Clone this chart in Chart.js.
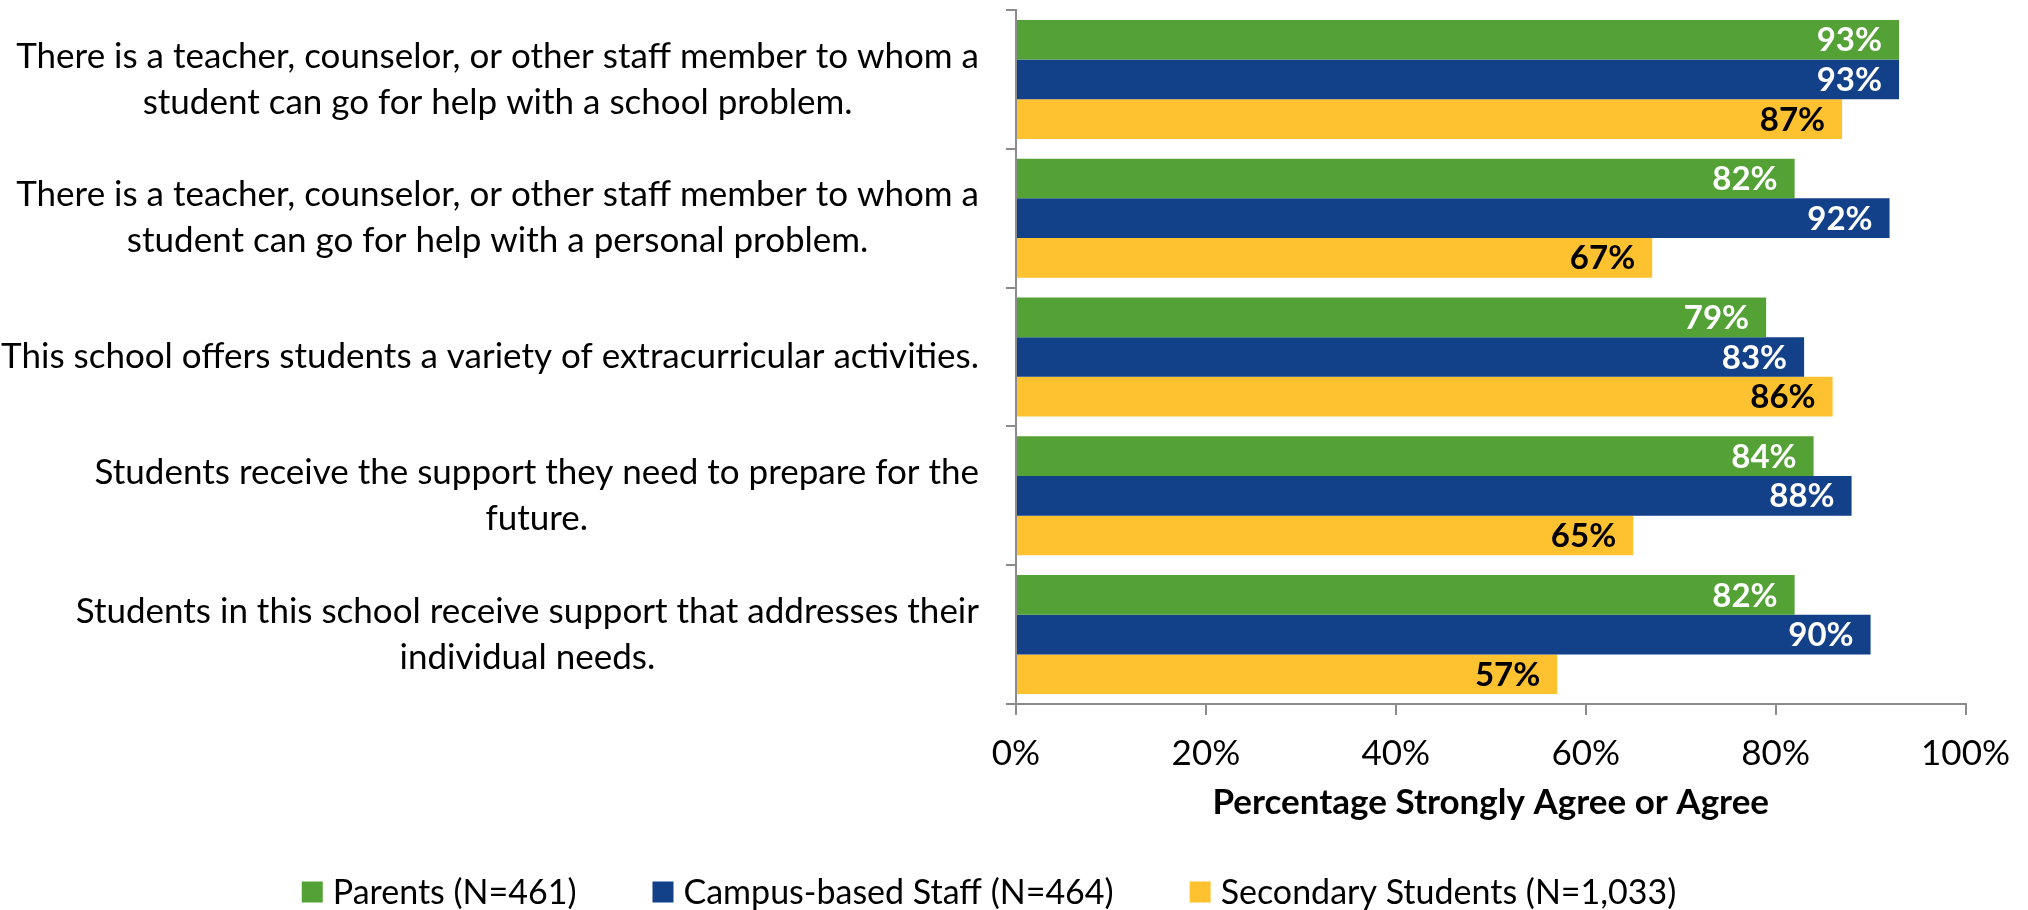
<!DOCTYPE html>
<html>
<head>
<meta charset="utf-8">
<script src="https://cdn.jsdelivr.net/npm/chart.js@4/dist/chart.umd.min.js"></script>
<style>
  html, body { margin: 0; padding: 0; background: #ffffff; }
  #wrap { width: 2028px; height: 910px; }
</style>
</head>
<body>
<div id="wrap"><canvas id="chart" width="2028" height="910"></canvas></div>
<script>
// Survey statements (each entry is the wrapped lines of one statement)
const statements = [
  ['There is a teacher, counselor, or other staff member to whom a', 'student can go for help with a school problem.'],
  ['There is a teacher, counselor, or other staff member to whom a', 'student can go for help with a personal problem.'],
  ['This school offers students a variety of extracurricular activities.'],
  ['Students receive the support they need to prepare for the', 'future.'],
  ['Students in this school receive support that addresses their', 'individual needs.']
];

// Percentage strongly agree or agree, per respondent group
const parents = [93, 82, 79, 84, 82];
const campusStaff = [93, 92, 83, 88, 90];
const secondaryStudents = [87, 67, 86, 65, 57];

const seriesNames = ['Parents (N=461)', 'Campus-based Staff (N=464)', 'Secondary Students (N=1,033)'];
const xTicks = [0, 20, 40, 60, 80, 100];
const xTitle = 'Percentage Strongly Agree or Agree';

const FONT = 'Lato, "Open Sans", sans-serif';
const TEXT_SIZE = 35;
const GREEN = '#54A136';
const BLUE = '#134189';
const YELLOW = '#FEC130';
const AXIS = '#8c8c8c';

// Wrapped category labels: lines centred on each other, block right-aligned to the axis
const statementLabels = {
  id: 'statementLabels',
  afterDraw(chart) {
    const { ctx } = chart;
    const yScale = chart.scales.y;
    const rightEdge = yScale.right - 37;
    const lineHeight = 46;
    ctx.save();
    ctx.font = TEXT_SIZE + 'px ' + FONT;
    ctx.fillStyle = '#000000';
    ctx.textAlign = 'center';
    ctx.textBaseline = 'middle';
    chart.data.labels.forEach((lines, i) => {
      const cy = yScale.getPixelForValue(i);
      const blockW = Math.max(...lines.map(l => ctx.measureText(l).width));
      const cx = rightEdge - blockW / 2;
      const top = cy - (lines.length - 1) * lineHeight / 2;
      lines.forEach((l, k) => ctx.fillText(l, cx, top + k * lineHeight));
    });
    ctx.restore();
  }
};

// Value labels at the inner end of each bar
const barValues = {
  id: 'barValues',
  afterDatasetsDraw(chart) {
    const { ctx } = chart;
    ctx.save();
    ctx.font = 'bold 33px ' + FONT;
    ctx.textAlign = 'right';
    ctx.textBaseline = 'middle';
    chart.data.datasets.forEach((ds, di) => {
      const meta = chart.getDatasetMeta(di);
      ctx.fillStyle = di === 2 ? '#000000' : '#ffffff';
      meta.data.forEach((bar, i) => {
        ctx.fillText(ds.data[i] + '%', bar.x - 17, bar.y + 1);
      });
    });
    ctx.restore();
  }
};

// Legend row below the axis title
const bottomLegend = {
  id: 'bottomLegend',
  afterDraw(chart) {
    const { ctx } = chart;
    const box = 21, gapText = 10, gapItem = 76;
    ctx.save();
    ctx.font = '34px ' + FONT;
    ctx.textBaseline = 'middle';
    ctx.textAlign = 'left';
    const items = chart.data.datasets.map(ds => ({ ds, w: box + gapText + ctx.measureText(ds.label).width }));
    const total = items.reduce((s, it) => s + it.w, 0) + gapItem * (items.length - 1);
    let x = chart.width / 2 - 25 - total / 2;
    const cy = 892;
    items.forEach(it => {
      ctx.fillStyle = it.ds.backgroundColor;
      ctx.fillRect(x, cy - box / 2, box, box);
      ctx.fillStyle = '#000000';
      ctx.fillText(it.ds.label, x + box + gapText, cy + 1);
      x += it.w + gapItem;
    });
    ctx.restore();
  }
};

new Chart(document.getElementById('chart'), {
  type: 'bar',
  data: {
    labels: statements,
    datasets: [
      { label: seriesNames[0], data: parents, backgroundColor: GREEN },
      { label: seriesNames[1], data: campusStaff, backgroundColor: BLUE },
      { label: seriesNames[2], data: secondaryStudents, backgroundColor: YELLOW }
    ]
  },
  options: {
    indexAxis: 'y',
    responsive: false,
    animation: false,
    devicePixelRatio: 1,
    datasets: { bar: { categoryPercentage: 0.857, barPercentage: 1.0, borderWidth: 0 } },
    layout: { padding: { top: 10, right: 57, bottom: 76, left: 0 } },
    plugins: { legend: { display: false }, tooltip: { enabled: false } },
    scales: {
      x: {
        min: 0, max: 100,
        afterBuildTicks(scale) { scale.ticks = xTicks.map(v => ({ value: v })); },
        afterFit(scale) { scale.height = 130; },
        ticks: {
          callback: v => v + '%',
          font: { family: FONT, size: TEXT_SIZE },
          color: '#000000',
          padding: 18,
          maxRotation: 0
        },
        grid: { drawOnChartArea: false, drawTicks: true, tickLength: 11, color: AXIS, lineWidth: 2 },
        border: { display: true, color: AXIS, width: 2 },
        title: {
          display: true, text: xTitle, color: '#000000',
          font: { family: FONT, size: TEXT_SIZE, weight: 'bold' },
          padding: { top: 0, bottom: 10 }
        }
      },
      y: {
        afterFit(scale) { scale.width = 1016; },
        ticks: { display: false },
        grid: { drawOnChartArea: false, drawTicks: true, tickLength: 10, color: AXIS, lineWidth: 2, offset: true },
        border: { display: true, color: AXIS, width: 2 }
      }
    }
  },
  plugins: [statementLabels, barValues, bottomLegend]
});
</script>
</body>
</html>
